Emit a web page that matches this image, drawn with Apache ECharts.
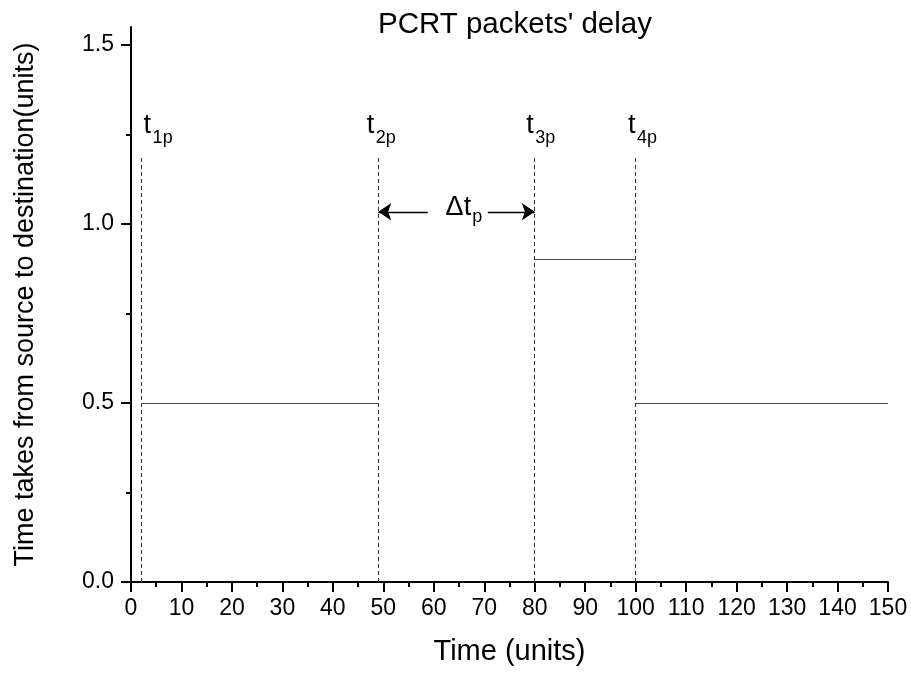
<!DOCTYPE html>
<html>
<head>
<meta charset="utf-8">
<title>PCRT packets' delay</title>
<script src="https://cdn.jsdelivr.net/npm/echarts@6/dist/echarts.min.js"></script>
<style>
html, body { margin: 0; padding: 0; background: #fff; }
#main { width: 911px; height: 673px; }
</style>
</head>
<body>
<div id="main"></div>
<script>
// 时延分段：起点、终点、时延
const segStart = [2, 80, 100]
const segEnd = [49, 100, 150]
const segDelay = [0.5, 0.9, 0.5]

// 虚线标记 t1p..t4p
const markerX = [2, 49, 80, 100]
const markerTop = 1.19
const markerNames = ['1p', '2p', '3p', '4p']
const markerLabelX = [2.5, 46.7, 78.3, 98.5]
const markerLabelY = 1.237

// Δt_p 箭头
const deltaY = 1.034
const arrowLeft = [58.8, 49]
const arrowRight = [70.7, 80]
const deltaLabelX = 67.4

const yMajor = [0, 0.5, 1.0, 1.5]
const yMinor = [0.25, 0.75, 1.25]

const FONT = 'Arial, "Liberation Sans", sans-serif'

let myChart = echarts.init(document.getElementById('main'))

// 只显示文字的散点（不画点）
const textSeries = (data, label) => ({
    type: 'scatter',
    silent: true,
    symbolSize: 0,
    itemStyle: { opacity: 1 },
    label: Object.assign({ show: true, color: '#000', fontFamily: FONT, distance: 0 }, label),
    data: data,
})

let option = {
    animation: false,
    textStyle: { fontFamily: FONT, color: '#000' },
    title: {
        text: "PCRT packets' delay",
        left: 373,
        top: 5,
        textStyle: { fontFamily: FONT, fontSize: 29.5, fontWeight: 'normal', color: '#000' },
    },
    grid: { left: 131, right: 23, top: 27, bottom: 91 },
    xAxis: {
        type: 'value',
        min: 0,
        max: 150,
        interval: 10,
        name: 'Time (units)',
        nameLocation: 'middle',
        nameGap: 55,
        nameTextStyle: { fontFamily: FONT, fontSize: 29, color: '#000' },
        splitLine: { show: false },
        axisLine: { onZero: false, lineStyle: { color: '#000', width: 2 } },
        axisTick: { length: 10, lineStyle: { color: '#000', width: 2 } },
        minorTick: { show: true, splitNumber: 2, length: 5, lineStyle: { color: '#000', width: 2 } },
        axisLabel: { margin: 15, fontFamily: FONT, fontSize: 23, color: '#000' },
    },
    yAxis: [
        {
            type: 'value',
            min: 0,
            max: 1.55,
            name: 'Time takes from source to destination(units)',
            nameLocation: 'middle',
            nameGap: 92,
            nameTextStyle: { fontFamily: FONT, fontSize: 27, color: '#000' },
            splitLine: { show: false },
            axisLine: { onZero: false, lineStyle: { color: '#000', width: 2 } },
            axisTick: { customValues: yMajor, length: 10, lineStyle: { color: '#000', width: 2 } },
            axisLabel: {
                customValues: yMajor,
                margin: 17,
                fontFamily: FONT,
                fontSize: 23,
                color: '#000',
                formatter: (v) => v.toFixed(1),
            },
        },
        {
            // 次刻度
            type: 'value',
            min: 0,
            max: 1.55,
            position: 'left',
            splitLine: { show: false },
            axisLine: { show: false },
            axisTick: { customValues: yMinor, length: 5, lineStyle: { color: '#000', width: 2 } },
            axisLabel: { show: false },
        },
    ],
    series: [
        {
            type: 'lines',
            coordinateSystem: 'cartesian2d',
            silent: true,
            symbol: 'none',
            lineStyle: { color: '#333', width: 1, type: [4, 3], opacity: 1 },
            data: markerX.map((x) => ({ coords: [[x, 0], [x, markerTop]] })),
        },
        {
            type: 'lines',
            coordinateSystem: 'cartesian2d',
            silent: true,
            symbol: 'none',
            lineStyle: { color: '#444', width: 1.2, opacity: 1 },
            data: segStart.map((s, i) => ({ coords: [[s, segDelay[i]], [segEnd[i], segDelay[i]]] })),
        },
        {
            type: 'lines',
            coordinateSystem: 'cartesian2d',
            silent: true,
            symbol: ['none', 'arrow'],
            symbolSize: [8, 13],
            lineStyle: { color: '#000', width: 1.3, opacity: 1 },
            data: [
                { coords: [[arrowLeft[0], deltaY], [arrowLeft[1], deltaY]] },
                { coords: [[arrowRight[0], deltaY], [arrowRight[1], deltaY]] },
            ],
        },
        // t
        textSeries(
            markerLabelX.map((x, i) => ({ name: markerNames[i], value: [x, markerLabelY] })),
            { position: 'top', align: 'left', fontSize: 27, lineHeight: 27, formatter: 't' }
        ),
        // 下标 1p..4p
        textSeries(
            markerLabelX.map((x, i) => ({ name: markerNames[i], value: [x, markerLabelY] })),
            { position: 'top', align: 'left', fontSize: 18, lineHeight: 18, offset: [9, 8], formatter: (p) => p.name }
        ),
        // Δt
        textSeries([[deltaLabelX, deltaY]], { position: 'left', fontSize: 27, lineHeight: 27, offset: [0, -4], formatter: 'Δt' }),
        // 下标 p
        textSeries([[deltaLabelX, deltaY]], { position: 'right', fontSize: 18, lineHeight: 18, offset: [1, 5], formatter: 'p' }),
    ],
}

option && myChart.setOption(option)
window.addEventListener('resize', myChart.resize)
</script>
</body>
</html>
